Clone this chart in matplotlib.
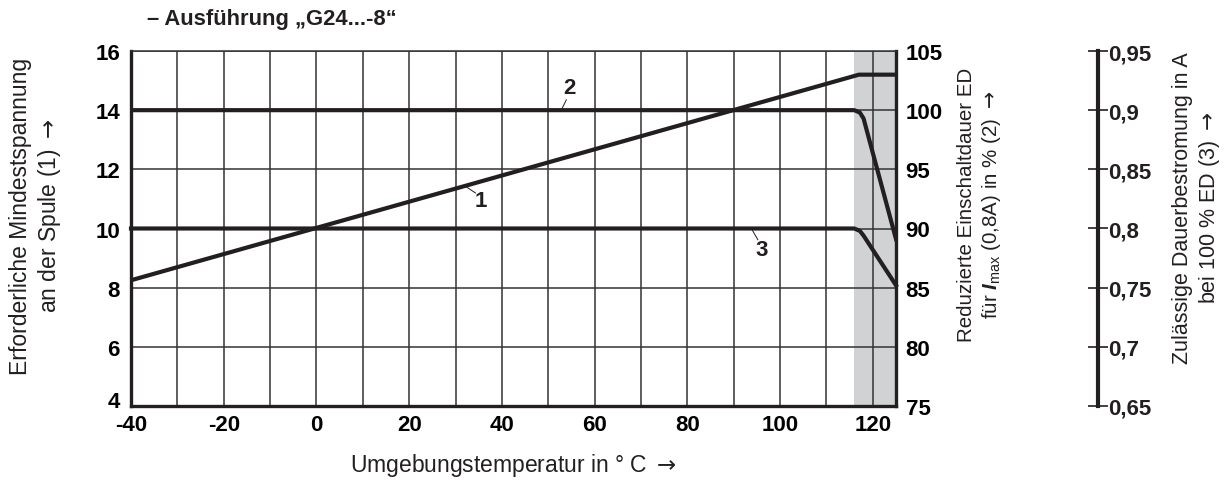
import matplotlib.pyplot as plt
import matplotlib.transforms as mtransforms
import numpy as np

plt.rcParams['font.family'] = ['Liberation Sans', 'DejaVu Sans']
plt.rcParams['mathtext.fontset'] = 'custom'
plt.rcParams['mathtext.rm'] = 'Liberation Sans'
plt.rcParams['mathtext.it'] = 'Liberation Sans:italic:bold'
plt.rcParams['mathtext.sf'] = 'DejaVu Sans'
plt.rcParams['axes.unicode_minus'] = False

# Curve 1: required minimum coil voltage (left axis, V)
temp_1 = [-40, 117, 125]
volt_1 = [8.25, 15.2, 15.2]

# Curve 2: reduced duty cycle ED in % (right axis)
temp_2 = [-40, 116, 117.2, 118, 125]
ed_2 = [100, 100, 99.8, 99.3, 89.1]

# Curve 3: permissible continuous current in A (outer axis)
temp_3 = [-40, 116, 117.2, 118, 125]
amp_3 = [0.8, 0.8, 0.798, 0.794, 0.752]

x_ticks = [-40, -20, 0, 20, 40, 60, 80, 100, 120]
left_ticks = [4, 6, 8, 10, 12, 14, 16]
ed_ticks = [75, 80, 85, 90, 95, 100, 105]
amp_ticks = [0.65, 0.7, 0.75, 0.8, 0.85, 0.9, 0.95]
amp_labels = ['0,65', '0,7', '0,75', '0,8', '0,85', '0,9', '0,95']
shade_range = (116, 125)

ink = '#231f20'
tick_font = dict(weight='bold', size=16)
arrow = r'$\mathsf{\rightarrow}$'

fig = plt.figure(figsize=(12.25, 4.89), dpi=100)
ax = fig.add_axes([131/1225, 1 - 407/489, (896 - 131)/1225, (407 - 52)/489])

ax.axvspan(*shade_range, color='#d1d2d4', lw=0, zorder=0)
ax.set_xlim(-40, 125)
ax.set_ylim(4, 16)
ax.set_xticks(x_ticks)
ax.set_xticks(np.arange(-30, 125, 10), minor=True)
ax.set_yticks(left_ticks)
ax.grid(True, which='both', color='#333333', lw=1.1, zorder=1)
ax.set_axisbelow(True)
ax.tick_params(which='both', length=0)
ax.tick_params(axis='y', pad=8)
ax.tick_params(axis='x', pad=6)
for lab in ax.get_xticklabels() + ax.get_yticklabels():
    lab.set(**tick_font)
# lift the "4" a little so it clears the "-40" below it
lift = mtransforms.ScaledTranslation(0, 5 / 72, fig.dpi_scale_trans)
first = ax.yaxis.get_major_ticks()[0].label1
first.set_transform(first.get_transform() + lift)
for s in ['left', 'bottom', 'right']:
    ax.spines[s].set_linewidth(2.4)
    ax.spines[s].set_color(ink)
ax.spines['top'].set_linewidth(1.1)
ax.spines['top'].set_color('#333333')

ax.plot(temp_1, volt_1, color=ink, lw=3, solid_capstyle='butt', zorder=5)

# Second axis: ED in %
ax2 = ax.twinx()
ax2.set_ylim(75, 105)
ax2.set_yticks(ed_ticks)
ax2.tick_params(length=0, pad=7)
for lab in ax2.get_yticklabels():
    lab.set(**tick_font)
for s in ['left', 'top', 'bottom', 'right']:
    ax2.spines[s].set_visible(False)
ax2.plot(temp_2, ed_2, color=ink, lw=3, solid_joinstyle='round', zorder=5)

# Third axis: current in A
ax3 = ax.twinx()
ax3.set_ylim(0.65, 0.95)
ax3.spines['right'].set_position(('axes', 1.264))
ax3.set_yticks(amp_ticks)
ax3.set_yticklabels(amp_labels)
ax3.tick_params(direction='inout', length=15, width=1.2, pad=0, colors=ink)
for lab in ax3.get_yticklabels():
    lab.set(**tick_font)
for s in ['left', 'top', 'bottom']:
    ax3.spines[s].set_visible(False)
ax3.spines['right'].set_linewidth(3)
ax3.spines['right'].set_color(ink)
ax3.plot(temp_3, amp_3, color=ink, lw=3, solid_joinstyle='round', zorder=5, clip_on=False)

# Curve labels with thin leaders
label_font = dict(weight='bold', size=16, color=ink)
ax.plot([52.8, 53.9], [14.0, 14.35], color=ink, lw=0.7)
ax.text(54.6, 14.78, '2', ha='center', va='center', **label_font)
ax.plot([32.2, 34.3], [11.42, 11.2], color=ink, lw=0.7)
ax.text(35.4, 10.95, '1', ha='center', va='center', **label_font)
ax.plot([93.8, 95.2], [10.0, 9.62], color=ink, lw=0.7)
ax.text(96.0, 9.28, '3', ha='center', va='center', **label_font)

# Axis titles
fig.text(147/1225, 1 - 20/489, '– Ausführung „G24...-8“', ha='left', va='center',
         fontsize=15.8, weight='bold', color=ink)
fig.text(36/1225, 1 - 216/489, 'Erforderliche Mindestspannung\nan der Spule (1) ' + arrow,
         rotation=90, ha='center', va='center', fontsize=16.5, linespacing=1.2, color=ink)
fig.text(980/1225, 1 - 205/489,
         'Reduzierte Einschaltdauer ED\nfür $I_{\\mathrm{max}}$ (0,8A) in % (2) ' + arrow,
         rotation=90, ha='center', va='center', fontsize=14.8, linespacing=1.2, color=ink)
fig.text(1197/1225, 1 - 208/489, 'Zulässige Dauerbestromung in A\nbei 100 % ED (3) ' + arrow,
         rotation=90, ha='center', va='center', fontsize=15.5, linespacing=1.2, color=ink)
fig.text(513/1225, 1 - 466/489, 'Umgebungstemperatur in ° C ' + arrow, ha='center', va='center',
         fontsize=16.5, color=ink)

fig.savefig('out.png', dpi=100)
